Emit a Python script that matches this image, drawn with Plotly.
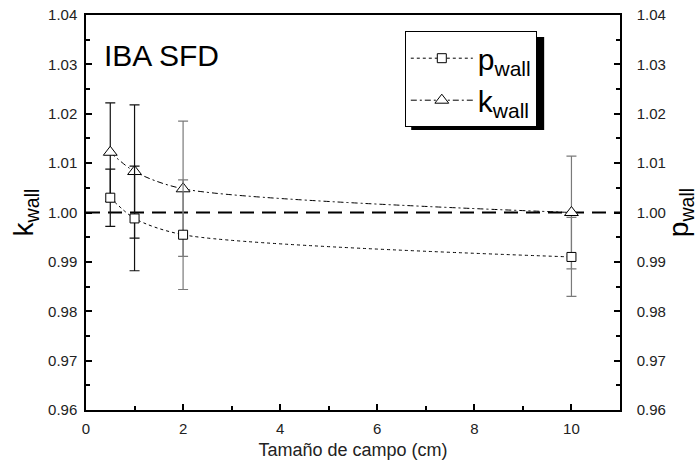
import plotly.graph_objects as go

# Field sizes (cm) and correction factors
field_size = [0.5, 1, 2, 10]
p_wall = [1.0030, 0.9988, 0.9955, 0.9910]
p_wall_err = [0.0058, 0.0106, 0.0111, 0.0080]
k_wall = [1.0122, 1.0083, 1.0048, 1.0000]
k_wall_err = [0.0100, 0.0135, 0.0137, 0.0114]

y_ticks = [0.96, 0.97, 0.98, 0.99, 1.00, 1.01, 1.02, 1.03, 1.04]
x_ticks = [0, 2, 4, 6, 8, 10]

FONT = "Liberation Sans, Arial, sans-serif"

fig = go.Figure()

# Error bars first so the filled markers sit on top of them;
# small fields drawn in black, larger fields in grey.
for vals, errs, yax in ((p_wall, p_wall_err, "y2"), (k_wall, k_wall_err, "y")):
    for idx, col in (([0, 1], "#111"), ([2, 3], "#7a7a7a")):
        fig.add_trace(go.Scatter(
            x=[field_size[i] for i in idx], y=[vals[i] for i in idx], yaxis=yax,
            mode="markers", marker=dict(size=1, opacity=0), showlegend=False,
            hoverinfo="skip",
            error_y=dict(type="data", array=[errs[i] for i in idx], color=col,
                         thickness=1.2, width=5),
        ))

fig.add_trace(go.Scatter(
    x=field_size, y=p_wall, name="p<sub>wall</sub>", yaxis="y2",
    mode="lines+markers",
    line=dict(color="black", width=1, dash="3px,3px", shape="spline", smoothing=0.8),
    marker=dict(symbol="square", size=9, color="white", line=dict(width=1, color="black")),
))
fig.add_trace(go.Scatter(
    x=field_size, y=k_wall, name="k<sub>wall</sub>",
    mode="lines+markers",
    line=dict(color="black", width=1, dash="6px,3px,2px,3px", shape="spline", smoothing=0.8),
    marker=dict(symbol="triangle-up", size=12, color="white", line=dict(width=1, color="black")),
))

# Reference line at unity
fig.add_shape(type="line", xref="paper", x0=0, x1=1, yref="y", y0=1.0, y1=1.0,
              line=dict(color="black", width=2, dash="14px,8px"), layer="below")

# Legend drop shadow
fig.add_shape(type="rect", xref="paper", yref="paper",
              x0=0.609, x1=0.858, y0=0.709, y1=0.944,
              fillcolor="black", line=dict(width=0), layer="above")

fig.add_annotation(text="IBA SFD", xref="paper", yref="paper", x=0.03, y=0.945,
                   xanchor="left", yanchor="top", showarrow=False,
                   font=dict(family=FONT, size=30, color="black"))

axis_common = dict(
    showline=True, linecolor="black", linewidth=1.5,
    ticks="inside", ticklen=6, tickwidth=1.5, tickcolor="black",
    showgrid=False, zeroline=False, automargin=False,
    tickfont=dict(family=FONT, size=15, color="#222"),
)

fig.update_layout(
    width=698, height=463,
    margin=dict(l=86, r=78, t=15, b=53),
    plot_bgcolor="white", paper_bgcolor="white",
    showlegend=True,
    legend=dict(
        x=0.597, y=0.959, xanchor="left", yanchor="top",
        bgcolor="white", bordercolor="black", borderwidth=1,
        font=dict(family=FONT, size=30, color="black"),
        itemwidth=62, tracegroupgap=8,
    ),
    xaxis=dict(
        range=[0, 11], tickvals=x_ticks, mirror=True, ticklabelstandoff=4,
        minor=dict(dtick=1, ticklen=4, tickcolor="black", ticks="inside", tickwidth=1.5),
        title=dict(text="Tamaño de campo (cm)", font=dict(family=FONT, size=18, color="#222"),
                   standoff=8),
        **axis_common,
    ),
    yaxis=dict(
        range=[0.96, 1.04], tickvals=y_ticks, tickformat=".2f", ticklabelstandoff=4,
        minor=dict(dtick=0.005, ticklen=4, tickcolor="black", ticks="inside", tickwidth=1.5),
        title=dict(text="k<sub>wall</sub>", font=dict(family=FONT, size=28, color="black"),
                   standoff=6),
        **axis_common,
    ),
    yaxis2=dict(
        range=[0.96, 1.04], tickvals=y_ticks, tickformat=".2f",
        overlaying="y", side="right", ticklabelstandoff=12,
        minor=dict(dtick=0.005, ticklen=4, tickcolor="black", ticks="inside", tickwidth=1.5),
        title=dict(text="p<sub>wall</sub>", font=dict(family=FONT, size=28, color="black"),
                   standoff=6),
        **axis_common,
    ),
)

fig.write_html("out.html")
